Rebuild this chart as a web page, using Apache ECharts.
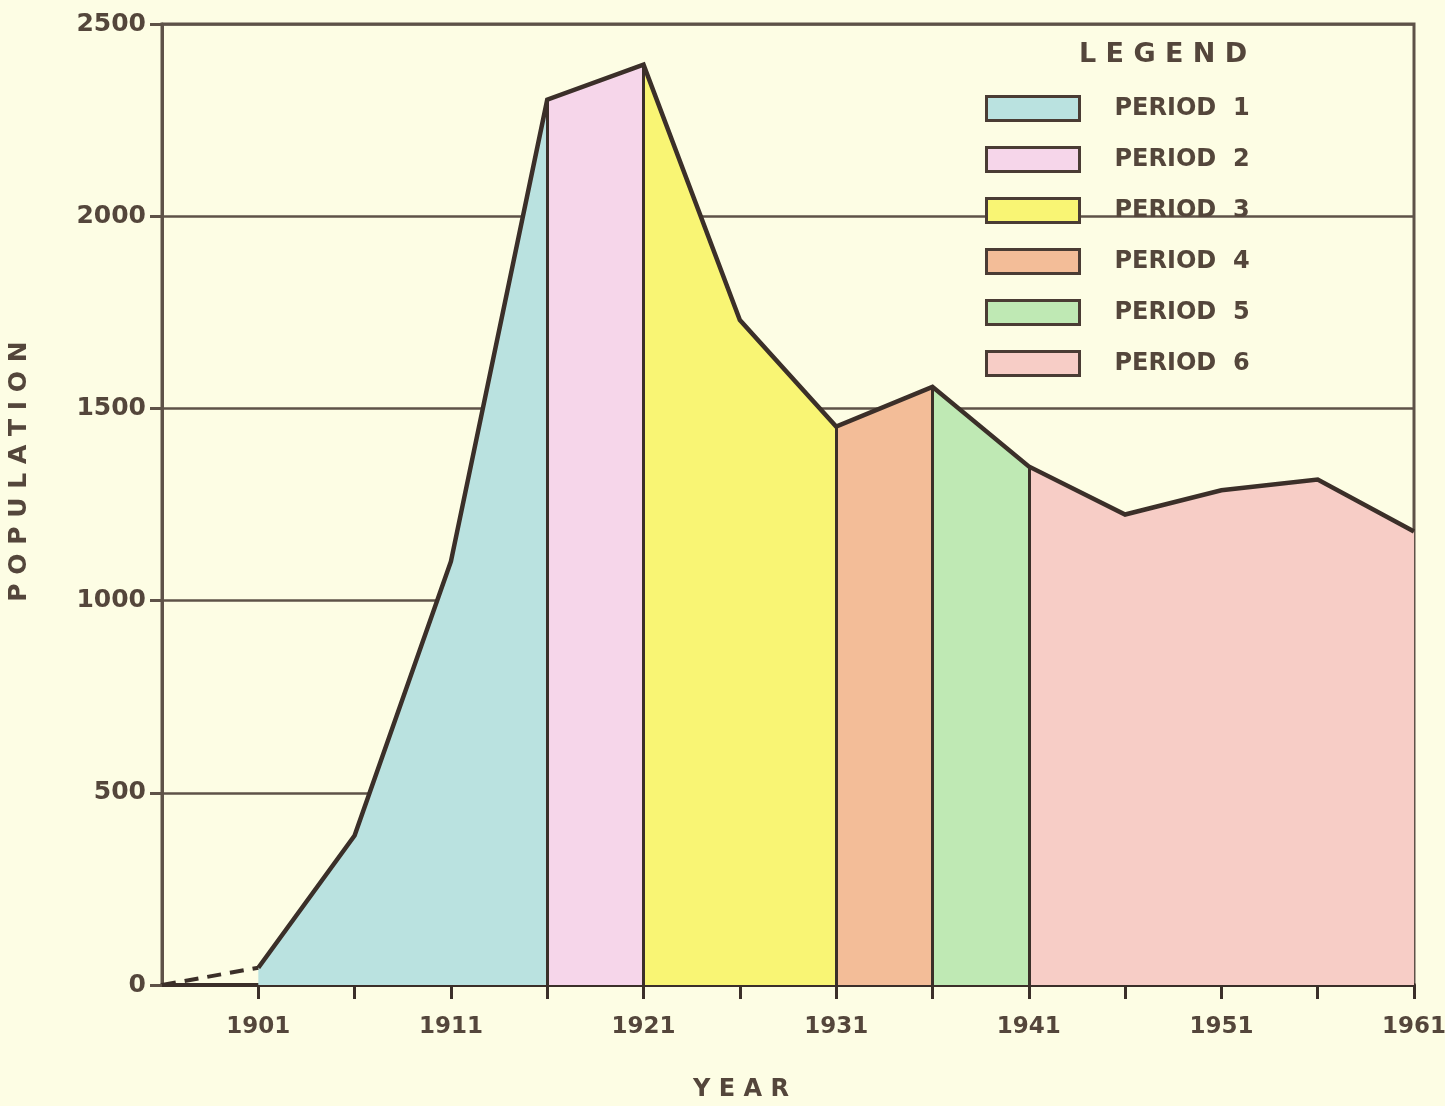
<!DOCTYPE html>
<html lang="en">
    <head>
        <meta charset="UTF-8" />
        <title>Population</title>
        <style>
            * {
                box-sizing: border-box;
                margin: 0;
                padding: 0;
            }
            body {
                background-color: #fdfde4;
            }
            .container {
                width: 1445px;
                height: 1106px;
            }
        </style>
    </head>
    <body>
        <div class="container" id="chart"></div>
        <script src="https://cdn.jsdelivr.net/npm/echarts@6/dist/echarts.min.js"></script>
        <script>
            // 年份（每5年一格）
            var years = ['1896', '1901', '1906', '1911', '1916', '1921', '1926', '1931', '1936', '1941', '1946', '1951', '1956', '1961']
            // 人口
            var population = [0, 45, 389, 1102, 2303, 2394, 1730, 1453, 1556, 1349, 1224, 1287, 1315, 1180]
            // 各时期起止年份
            var periodNames = ['PERIOD 1', 'PERIOD 2', 'PERIOD 3', 'PERIOD 4', 'PERIOD 5', 'PERIOD 6']
            var periodStart = ['1901', '1916', '1921', '1931', '1936', '1941']
            var periodEnd = ['1916', '1921', '1931', '1936', '1941', '1961']
            var periodColors = ['#bae2e0', '#f6d6ea', '#f9f574', '#f3bd98', '#bfe9b4', '#f7cdc6']
            // 分界线年份
            var dividers = ['1916', '1921', '1931', '1936', '1941']
            var yTicks = [0, 500, 1000, 1500, 2000, 2500]

            var ink = '#3b2f29'
            var axisInk = '#5e5248'
            var textInk = '#54463b'
            var font = 'DejaVu Sans'

            // 字母间加空格，模拟手写字距
            function spaced(s) {
                return s.split('').join(' ')
            }

            function rangeData(from, to) {
                var a = years.indexOf(from)
                var b = years.indexOf(to)
                return population.map(function (v, i) {
                    return i >= a && i <= b ? v : null
                })
            }

            var series = periodNames.map(function (name, k) {
                return {
                    name: name,
                    type: 'line',
                    data: rangeData(periodStart[k], periodEnd[k]),
                    showSymbol: false,
                    lineStyle: { width: 0 },
                    itemStyle: { color: periodColors[k] },
                    areaStyle: { color: periodColors[k], opacity: 1 },
                    silent: true,
                    z: 2
                }
            })

            // 虚线段 1896-1901
            series.push({
                name: 'early',
                type: 'line',
                data: rangeData('1896', '1901'),
                showSymbol: false,
                lineStyle: { color: ink, width: 4, type: [14, 9] },
                z: 4
            })

            // 外轮廓线 + 分界竖线
            series.push({
                name: 'outline',
                type: 'line',
                data: rangeData('1901', '1961'),
                showSymbol: false,
                lineStyle: { color: ink, width: 4.5, join: 'miter' },
                z: 5,
                markLine: {
                    silent: true,
                    symbol: 'none',
                    label: { show: false },
                    lineStyle: { color: ink, width: 3, type: 'solid' },
                    data: dividers.map(function (y) {
                        return [
                            { coord: [y, 0] },
                            { coord: [y, population[years.indexOf(y)]] }
                        ]
                    })
                }
            })

            var chart = echarts.init(document.getElementById('chart'))
            chart.setOption({
                backgroundColor: '#fdfde4',
                animation: false,
                textStyle: { fontFamily: font, fontWeight: 'bold' },
                title: {
                    text: spaced('LEGEND'),
                    left: 1074,
                    top: 36,
                    textStyle: {
                        color: textInk,
                        fontFamily: font,
                        fontSize: 27,
                        fontWeight: 'bold'
                    }
                },
                legend: {
                    data: periodNames,
                    formatter: function (name) {
                        return name.replace(' ', '  ')
                    },
                    orient: 'vertical',
                    left: 985,
                    top: 95,
                    padding: 0,
                    icon: 'rect',
                    itemWidth: 93,
                    itemHeight: 24,
                    itemGap: 24,
                    itemStyle: { borderColor: '#4a3c34', borderWidth: 3 },
                    textStyle: {
                        color: textInk,
                        fontFamily: font,
                        fontSize: 24,
                        fontWeight: 'bold',
                        padding: [0, 0, 0, 30]
                    },
                    selectedMode: false
                },
                grid: {
                    left: 162,
                    right: 31,
                    top: 24,
                    bottom: 121,
                    outerBoundsMode: 'none',
                    containLabel: false,
                    show: true,
                    borderColor: axisInk,
                    borderWidth: 3
                },
                xAxis: {
                    type: 'category',
                    data: years,
                    boundaryGap: false,
                    name: spaced('YEAR'),
                    nameLocation: 'middle',
                    nameGap: 93,
                    nameTextStyle: {
                        color: textInk,
                        fontFamily: font,
                        fontSize: 24,
                        fontWeight: 'bold',
                        padding: [0, 94, 0, 0]
                    },
                    axisLine: { lineStyle: { color: ink, width: 4 } },
                    axisTick: {
                        length: 14,
                        lineStyle: { color: ink, width: 3 },
                        interval: function (i) {
                            return i > 0
                        }
                    },
                    axisLabel: {
                        color: textInk,
                        fontFamily: font,
                        fontSize: 23,
                        fontWeight: 'bold',
                        margin: 31,
                        interval: function (i) {
                            return i % 2 === 1
                        }
                    },
                    splitLine: { show: false }
                },
                yAxis: {
                    type: 'value',
                    min: yTicks[0],
                    max: yTicks[yTicks.length - 1],
                    interval: 500,
                    name: spaced('POPULATION'),
                    nameLocation: 'middle',
                    nameGap: 130,
                    nameTextStyle: {
                        color: textInk,
                        fontFamily: font,
                        fontSize: 25,
                        fontWeight: 'bold',
                        padding: [0, 0, 0, 66]
                    },
                    axisLine: { show: true, lineStyle: { color: axisInk, width: 3 } },
                    axisTick: { show: true, length: 12, lineStyle: { color: axisInk, width: 3 } },
                    axisLabel: {
                        color: textInk,
                        fontFamily: font,
                        fontSize: 25,
                        fontWeight: 'bold',
                        margin: 16,
                        formatter: function (v) {
                            return String(v)
                        }
                    },
                    splitLine: { lineStyle: { color: axisInk, width: 2.5 } }
                },
                series: series
            })
        </script>
    </body>
</html>
